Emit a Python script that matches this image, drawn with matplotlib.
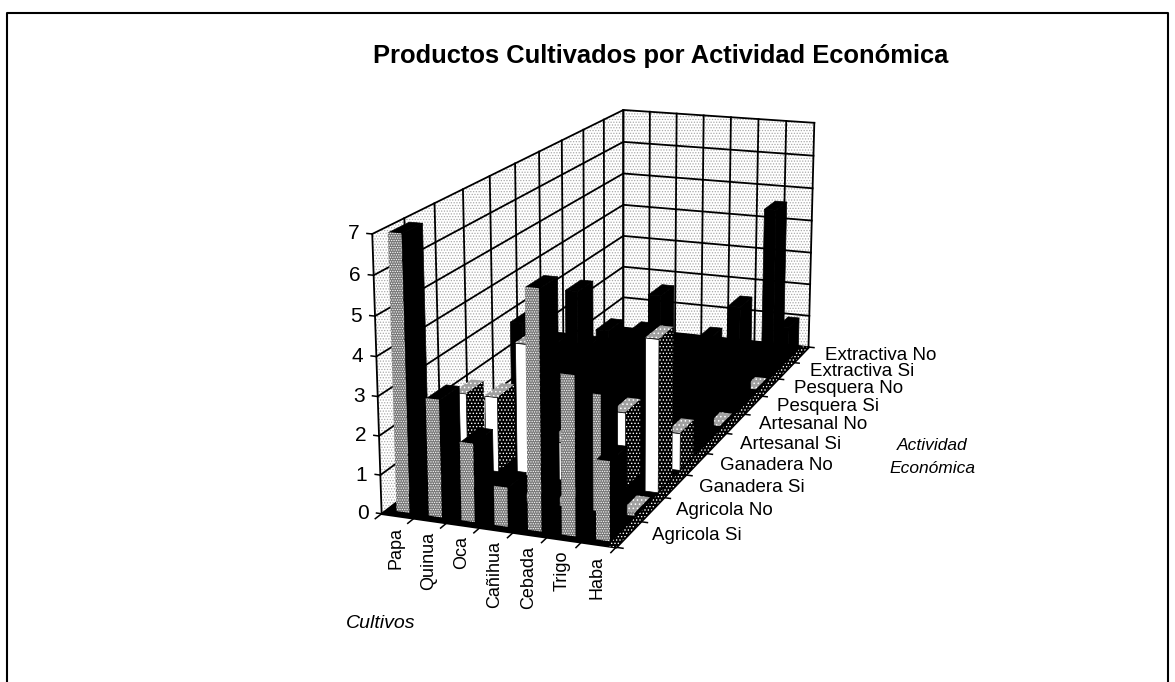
import matplotlib
matplotlib.use('Agg')
import numpy as np
import matplotlib.pyplot as plt
from mpl_toolkits.mplot3d.art3d import Poly3DCollection

plt.rcParams['font.family'] = ['Liberation Sans', 'DejaVu Sans']
plt.rcParams['hatch.linewidth'] = 0.6

cultivos = ['Papa', 'Quinua', 'Oca', 'Cañihua', 'Cebada', 'Trigo', 'Haba']
actividades = ['Agricola Si', 'Agricola No', 'Ganadera Si', 'Ganadera No', 'Artesanal Si',
               'Artesanal No', 'Pesquera Si', 'Pesquera No', 'Extractiva Si', 'Extractiva No']
agricola_si = [7, 3, 2, 1, 6, 4, 2]
agricola_no = [0, 0, 0, 0, 0, 3, 0]
ganadera_si = [2, 2, 3.5, 1, 0, 2, 4]
ganadera_no = [0, 3.5, 3, 3, 3, 3, 1]
artesanal_si = [0, 0, 4, 3, 3, 0, 1]
artesanal_no = [0, 0, 0, 0, 3.6, 2, 0]
pesquera_si = [0, 0, 0, 0, 0, 2, 3]
pesquera_no = [0, 0, 0, 0, 0, 0, 0]
extractiva_si = [0, 0, 0, 0, 0, 0, 5]
extractiva_no = [0, 0, 0, 0, 0, 0, 1]
valores = [agricola_si, agricola_no, ganadera_si, ganadera_no, artesanal_si,
           artesanal_no, pesquera_si, pesquera_no, extractiva_si, extractiva_no]
niveles = [0, 1, 2, 3, 4, 5, 6, 7]

W, H = 1175, 682
fig = plt.figure(figsize=(W/100, H/100), dpi=100)
L, T, S = 263.8, -39.4, 694.0
ax = fig.add_axes([L/W, 1-(T+S)/H, S/W, S/H], projection='3d', computed_zorder=False)
nc, nr, nz = len(cultivos), len(actividades), 7
ax.set_xlim(0, nc, view_margin=0)
ax.set_ylim(0, nr, view_margin=0)
ax.set_zlim(0, nz, view_margin=0)
ax.view_init(15.663, -69.708)
ax.set_proj_type('persp', focal_length=0.548)
ax.set_box_aspect((0.868, 2.428, 1))
ax.set_axis_off()
M = ax.get_proj()


def plano(x, y, z):
    q = M @ np.array([x, y, z, 1.0])
    return q[0]/q[3], q[1]/q[3]


def rotulo(x, y, z, texto, dx, dy, **kw):
    ax.annotate(texto, xy=plano(x, y, z), xytext=(dx, dy), textcoords='offset pixels',
                annotation_clip=False, zorder=5000, **kw)


orden = 0


def add(verts, fc, ec='black', hatch=None, lw=0.5):
    global orden
    orden += 1
    ax.add_collection3d(Poly3DCollection([verts], facecolor=fc, edgecolor=ec, linewidths=lw,
                                         hatch=hatch, zorder=orden))


# walls and floor
add([(0, 0, 0), (0, 10, 0), (0, 10, 7), (0, 0, 7)], 'white', ec='#a8a8a8', hatch='......', lw=0)
add([(0, 10, 0), (7, 10, 0), (7, 10, 7), (0, 10, 7)], 'white', ec='#a8a8a8', hatch='......', lw=0)
for k in niveles:
    ax.plot([0, 0, 7], [0, 10, 10], [k, k, k], color='black', lw=1.3, zorder=orden+1)
for r in range(nr+1):
    ax.plot([0, 0], [r, r], [0, 7], color='black', lw=1.3, zorder=orden+1)
for c in range(nc+1):
    ax.plot([c, c], [10, 10], [0, 7], color='black', lw=1.3, zorder=orden+1)
orden += 2
add([(0, 0, 0), (7, 0, 0), (7, 10, 0), (0, 10, 0)], 'black', lw=1.2)
add([(6.75, 0, 0), (7, 0, 0), (7, 10, 0), (6.75, 10, 0)], 'black', ec='white', hatch='.....', lw=0)

gris, blanco, negro = '#777777', 'white', 'black'
frentes = [gris, gris, blanco, negro, negro, negro, negro, negro, negro, negro]
ancho, fondo = 0.4, 0.66
for r in range(nr-1, -1, -1):
    for c in range(nc):
        v = valores[r][c]
        h = max(v, 0.08)
        x0, x1 = c+0.5-ancho/2, c+0.5+ancho/2
        y0, y1 = r+0.5-fondo/2, r+0.5+fondo/2
        fr = frentes[r]
        if r == 3 and c == 6:
            fr = blanco
        # side, top, front
        if fr == blanco:
            add([(x1, y0, 0), (x1, y1, 0), (x1, y1, h), (x1, y0, h)], negro, ec='white', hatch='.....', lw=0)
        else:
            add([(x1, y0, 0), (x1, y1, 0), (x1, y1, h), (x1, y0, h)], negro)
        if fr == blanco or (v == 0 and (r < 3 or c == 6)):
            add([(x0, y0, h), (x1, y0, h), (x1, y1, h), (x0, y1, h)], '#a0a0a0', ec='white', hatch='....', lw=0)
        else:
            add([(x0, y0, h), (x1, y0, h), (x1, y1, h), (x0, y1, h)], negro)
        if fr == gris:
            add([(x0, y0, 0), (x1, y0, 0), (x1, y0, h), (x0, y0, h)], gris, ec='white', hatch='.......', lw=0)
        else:
            add([(x0, y0, 0), (x1, y0, 0), (x1, y0, h), (x0, y0, h)], fr)

orden += 1
for k in niveles:
    ax.plot([0, -0.16], [0, 0], [k, k], color='black', lw=1.1, zorder=orden)
    rotulo(0, 0, k, str(k), -13, 0, ha='right', va='center', fontsize=15)
for c, nombre in enumerate(cultivos):
    ax.plot([c, c], [0, -0.2], [0, 0], color='black', lw=1.1, zorder=orden)
    rotulo(c+0.5, 0, 0, nombre, -1.5, -11, rotation=90, ha='center', va='top', fontsize=13)
ax.plot([nc, nc], [0, -0.2], [0, 0], color='black', lw=1.1, zorder=orden)
for r, nombre in enumerate(actividades):
    ax.plot([7, 7.2], [r, r], [0, 0], color='black', lw=1.1, zorder=orden)
    rotulo(7, r+0.5, 0, nombre, 24, -1, ha='left', va='center', fontsize=13.5)
ax.plot([7, 7.2], [nr, nr], [0, 0], color='black', lw=1.1, zorder=orden)

fig.text(661/W, 1-56/H, 'Productos Cultivados por Actividad Económica', ha='center', va='center',
         fontsize=18.4, fontweight='bold')
fig.text(381/W, 1-623/H, 'Cultivos', style='italic', ha='center', va='center', fontsize=14)
fig.text(932/W, 1-457/H, 'Actividad\nEconómica', style='italic', ha='center', va='center',
         fontsize=12.5, linespacing=1.7)
fig.add_artist(plt.Line2D([7/W, 7/W, 1168/W, 1168/W], [0, 1-13/H, 1-13/H, 0], color='black', lw=1.5))
fig.savefig('out.png', dpi=100)
